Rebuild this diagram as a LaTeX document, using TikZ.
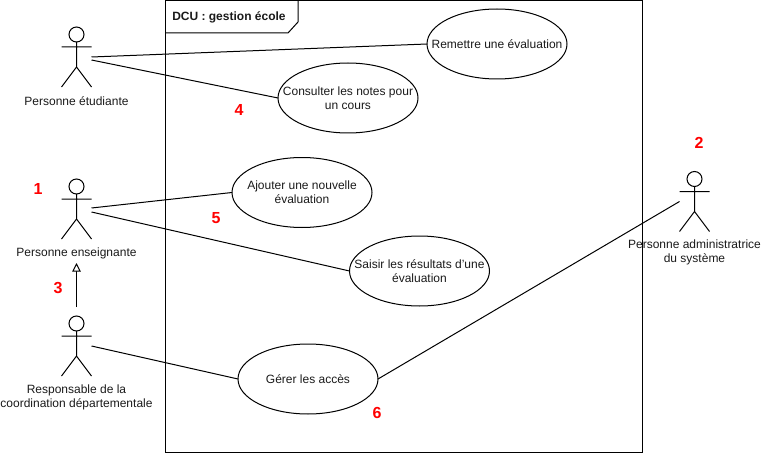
\documentclass[tikz,border=0pt]{standalone}
\usepackage{fontspec}
\setmainfont{Liberation Sans}
\usetikzlibrary{arrows.meta,shapes.geometric}
\definecolor{txt}{HTML}{1A1A1A}
\tikzset{
  x=0.75pt,y=-0.75pt,
  ln/.style={draw=black,line width=0.75pt},
  actorbox/.style={inner sep=0pt,outer sep=0pt,minimum width=22.5pt,minimum height=45pt},
  usecase/.style={ln,ellipse,inner xsep=-12pt,inner ysep=-8pt,outer sep=0pt,minimum width=105pt,minimum height=52.5pt,align=center,text=txt,font=\fontsize{9}{10.5}\selectfont},
  actorlabel/.style={inner sep=0pt,align=center,text=txt,font=\fontsize{9}{10.5}\selectfont},
  num/.style={inner sep=0pt,text=red,font=\fontsize{12}{14}\selectfont\bfseries},
  gen/.style={ln,-{Triangle[open,fill=white,length=6.5pt,width=6.5pt]}},
}
\newcommand{\stickman}[3]{%
  \node[actorbox] (#1) at (#2,#3) {};
  \draw[ln,fill=white] (#2,#3-22.5) circle[radius=7.5];
  \draw[ln] (#2,#3-15) -- (#2,#3+10) (#2-15,#3-10) -- (#2+15,#3-10)
            (#2-15,#3+30) -- (#2,#3+10) -- (#2+15,#3+30);
}
\begin{document}
\begin{tikzpicture}
\useasboundingbox (0,0) rectangle (761,453);
% frame
\draw[ln] (165.5,0.5) rectangle (642,452);
\draw[ln] (165.5,33) -- (288,33) -- (298,22) -- (298,0.5);
\node[inner sep=0pt,anchor=west,text=txt,font=\fontsize{9}{10.5}\selectfont\bfseries] (title) at (172,17.5) {DCU : gestion école};
% actors
\stickman{stu}{76.5}{57}
\stickman{ens}{76.5}{209}
\stickman{res}{76.5}{346}
\stickman{adm}{694.5}{201.5}
\node[actorlabel] (lstu) at (76.5,101) {Personne étudiante};
\node[actorlabel] (lens) at (76.5,253.5) {Personne enseignante};
\node[actorlabel] (lres) at (76.5,397) {Responsable de la\\coordination départementale};
\node[actorlabel] (ladm) at (694.5,252) {Personne administratrice\\du système};
% use cases
\node[usecase] (rem) at (497,44) {Remettre une évaluation};
\node[usecase] (con) at (348,98) {Consulter les notes pour\\un cours};
\node[usecase] (ajo) at (302,192.5) {Ajouter une nouvelle\\évaluation};
\node[usecase] (sai) at (419.5,271) {Saisir les résultats d'une\\évaluation};
\node[usecase] (ger) at (308,379) {Gérer les accès};
% connectors
\coordinate (stu1) at (91.5,57);
\coordinate (stu2) at (91.5,60);
\coordinate (ens1) at (91.5,208);
\coordinate (ens2) at (91.5,212);
\coordinate (gs) at (76.5,307);
\coordinate (ge) at (76.5,263);
\draw[ln] (stu1) -- (rem.west);
\draw[ln] (stu2) -- (con.west);
\draw[ln] (ens1) -- (ajo.west);
\draw[ln] (ens2) -- (sai.west);
\draw[ln] (res.east) -- (ger.west);
\draw[ln] (adm.west) -- (ger.east);
\draw[gen] (gs) -- (ge);
% numbers
\node[num] (n1) at (38,189) {1};
\node[num] (n2) at (699,143) {2};
\node[num] (n3) at (58,288) {3};
\node[num] (n4) at (239,110) {4};
\node[num] (n5) at (216,218) {5};
\node[num] (n6) at (377,413) {6};
\end{tikzpicture}
\end{document}
